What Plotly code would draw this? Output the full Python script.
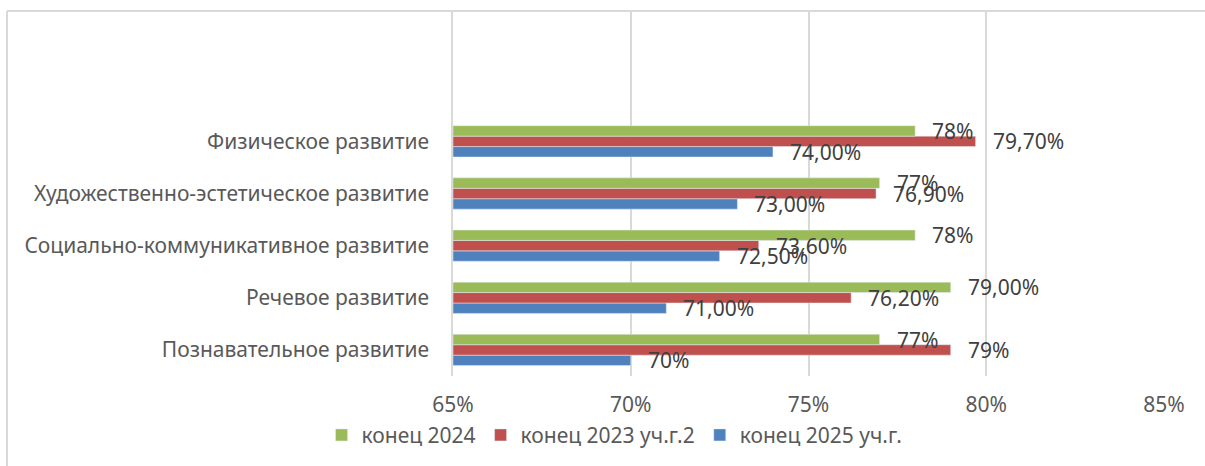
import plotly.graph_objects as go

categories = ["Познавательное развитие", "Речевое развитие",
              "Социально-коммуникативное развитие",
              "Художественно-эстетическое развитие", "Физическое развитие"]
s2024 = [77, 79, 78, 77, 78]
s2024_labels = ["77%", "79,00%", "78%", "77%", "78%"]
s2023 = [79, 76.2, 73.6, 76.9, 79.7]
s2023_labels = ["79%", "76,20%", "73,60%", "76,90%", "79,70%"]
s2025 = [70, 71, 72.5, 73, 74]
s2025_labels = ["70%", "71,00%", "72,50%", "73,00%", "74,00%"]
tick_vals = [65, 70, 75, 80, 85]
tick_text = ["65%", "70%", "75%", "80%", "85%"]

colors = {"g": "#9BBB59", "r": "#C0504D", "b": "#4F81BD"}
FONT = "Noto Sans"

fig = go.Figure()
fig.add_trace(go.Bar(y=categories, x=[v - 65 for v in s2025], base=65, orientation="h",
                     name="конец 2025 уч.г.", marker_color=colors["b"]))
fig.add_trace(go.Bar(y=categories, x=[v - 65 for v in s2023], base=65, orientation="h",
                     name="конец 2023 уч.г.2", marker_color=colors["r"]))
fig.add_trace(go.Bar(y=categories, x=[v - 65 for v in s2024], base=65, orientation="h",
                     name="конец 2024", marker_color=colors["g"]))

slot = 52.1
bar_h = slot * 0.6 / 3
annos = []
for vals, labs, shift in [(s2024, s2024_labels, bar_h), (s2023, s2023_labels, 0), (s2025, s2025_labels, -bar_h)]:
    for c, v, t in zip(categories, vals, labs):
        annos.append(dict(x=v, y=c, xref="x", yref="y", text=t, showarrow=False,
                          xanchor="left", yanchor="middle", xshift=15, yshift=shift,
                          font=dict(family=FONT, size=21, color="#404040")))

fig.update_layout(
    width=1205, height=466,
    margin=dict(l=453, r=41, t=11, b=90),
    paper_bgcolor="white", plot_bgcolor="white",
    barmode="group", bargap=0.4, bargroupgap=0,
    font=dict(family=FONT, size=21, color="#595959"),
    xaxis=dict(range=[65, 85], tickvals=tick_vals, ticktext=tick_text, showgrid=True,
               gridcolor="#d9d9d9", gridwidth=1.5, zeroline=False, showline=False,
               tickfont=dict(size=21, color="#595959"), ticks="", automargin=False,
               ticklabelstandoff=14),
    yaxis=dict(range=[-0.5, 6.5], showgrid=False, showline=True, linecolor="#d9d9d9",
               linewidth=1.5, ticks="", ticklabelstandoff=18, automargin=False,
               tickfont=dict(size=21, color="#595959")),
    legend=dict(orientation="h", xref="container", x=0.51, xanchor="center",
                yref="container", y=0.066, yanchor="middle",
                traceorder="reversed", font=dict(size=21, color="#595959")),
    annotations=annos,
    showlegend=True,
)
# chart border (left and top edges visible)
fig.add_shape(type="line", xref="paper", yref="paper", x0=(7 - 453) / 711, x1=2, y0=1, y1=1,
              line=dict(color="#d9d9d9", width=2))
fig.add_shape(type="line", xref="paper", yref="paper", x0=(7 - 453) / 711, x1=(7 - 453) / 711,
              y0=1, y1=-2, line=dict(color="#d9d9d9", width=2))
fig.write_html("out.html", config={"displayModeBar": False},
               post_script="document.body.style.margin='0';")
